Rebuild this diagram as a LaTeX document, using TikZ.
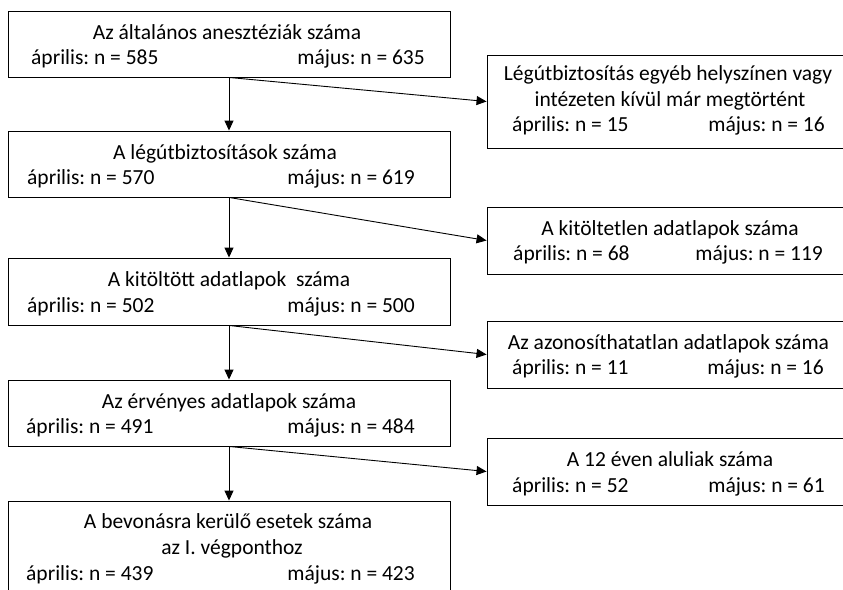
\documentclass[tikz,border=0pt]{standalone}
\usepackage{fontspec}
\setmainfont{Carlito}
\usetikzlibrary{arrows.meta}
\frenchspacing
\begin{document}
\begin{tikzpicture}[x=1pt,y=-1pt,
  box/.style={draw=black, line width=0.9pt, inner sep=0pt, minimum width=#1},
  lbox/.style={box=442pt},
  rbox/.style={box=364pt},
  txt/.style={inner sep=0pt, font=\fontsize{21.5}{25.5}\selectfont},
  ctxt/.style={txt, anchor=base},
  ltxt/.style={txt, anchor=base west},
  etxt/.style={txt, anchor=base east},
  arr/.style={line width=0.9pt, -{Triangle[length=10pt,width=9pt]}}
]
\useasboundingbox (0,0) rectangle (843,589);

% left boxes
\node[lbox, minimum height=66pt] (L1) at (229,44) {};
\node[lbox, minimum height=66pt] (L2) at (229,164) {};
\node[lbox, minimum height=67pt] (L3) at (229,291.5) {};
\node[lbox, minimum height=66pt] (L4) at (229,413) {};
\node[lbox, minimum height=93pt] (L5) at (229,547.5) {};

% right boxes
\node[rbox, minimum height=93pt] (R1) at (669,101.5) {};
\node[rbox, minimum height=67pt] (R2) at (669,240.5) {};
\node[rbox, minimum height=67pt] (R3) at (669,354.5) {};
\node[rbox, minimum height=67pt] (R4) at (669,471.5) {};

% left texts
\node[ctxt] (t1a) at (227,39) {Az általános anesztéziák száma};
\node[ltxt] (t1b) at (31,64.5) {április: n = 585};
\node[etxt] (t1c) at (425,64.5) {május: n = 635};

\node[ctxt] (t2a) at (225,159) {A légútbiztosítások száma};
\node[ltxt] (t2b) at (27,184.5) {április: n = 570};
\node[etxt] (t2c) at (415,184.5) {május: n = 619};

\node[ctxt] (t3a) at (229,286.5) {A kitöltött adatlapok\ \ száma};
\node[ltxt] (t3b) at (27,312) {április: n = 502};
\node[etxt] (t3c) at (415,312) {május: n = 500};

\node[ctxt] (t4a) at (229,408) {Az érvényes adatlapok száma};
\node[ltxt] (t4b) at (26,433.5) {április: n = 491};
\node[etxt] (t4c) at (415,433.5) {május: n = 484};

\node[ctxt] (t5a) at (228,528) {A bevonásra kerülő esetek száma};
\node[ctxt] (t5b) at (232,554) {az I. végponthoz};
\node[ltxt] (t5c) at (26,580) {április: n = 439};
\node[etxt] (t5d) at (415,580) {május: n = 423};

% right texts
\node[ctxt] (r1a) at (668,80.5) {Légútbiztosítás egyéb helyszínen vagy};
\node[ctxt] (r1b) at (670,106) {intézeten kívül már megtörtént};
\node[ltxt] (r1c) at (512,131.5) {április: n = 15};
\node[etxt] (r1d) at (825,131.5) {május: n = 16};

\node[ctxt] (r2a) at (670,235) {A kitöltetlen adatlapok száma};
\node[ltxt] (r2b) at (513,260.5) {április: n = 68};
\node[etxt] (r2c) at (823,260.5) {május: n = 119};

\node[ctxt] (r3a) at (668.5,349) {Az azonosíthatatlan adatlapok száma};
\node[ltxt] (r3b) at (512,374.5) {április: n = 11};
\node[etxt] (r3c) at (824,374.5) {május: n = 16};

\node[ctxt] (r4a) at (670,466.5) {A 12 éven aluliak száma};
\node[ltxt] (r4b) at (512,492) {április: n = 52};
\node[etxt] (r4c) at (825,492) {május: n = 61};

% connectors
\draw[arr] (L1.south) -- (L2.north);
\draw[arr] (L2.south) -- (L3.north);
\draw[arr] (L3.south) -- (L4.north);
\draw[arr] (L4.south) -- (L5.north);
\draw[arr] (L1.south) -- (R1.west);
\draw[arr] (L2.south) -- (R2.west);
\draw[arr] (L3.south) -- (R3.west);
\draw[arr] (L4.south) -- (R4.west);
\end{tikzpicture}
\end{document}
